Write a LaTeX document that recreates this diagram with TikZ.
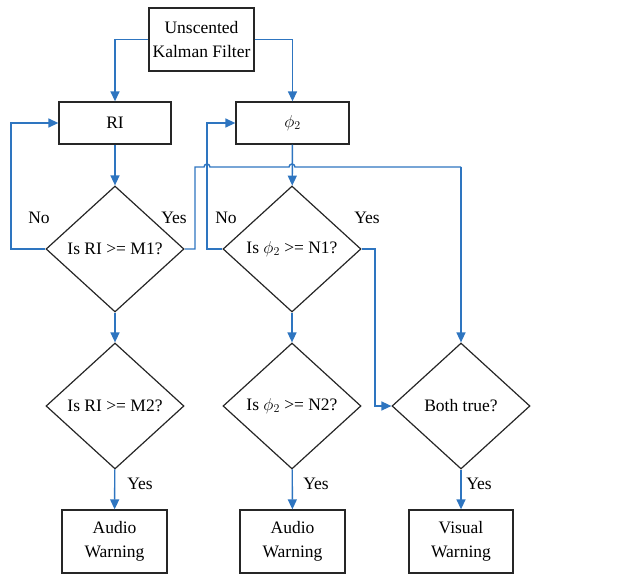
\documentclass[tikz,border=0pt]{standalone}
\usepackage{fontspec}
\setmainfont{Liberation Serif}
\usetikzlibrary{shapes.geometric,arrows.meta}
\definecolor{flowblue}{RGB}{46,117,192}
\begin{document}
\begin{tikzpicture}[x=1pt,y=-1pt,
  font=\fontsize{17.5}{24}\selectfont,
  box/.style={draw=black!85,line width=1.3pt,rectangle,inner sep=0pt,align=center,minimum height=42pt},
  tallbox/.style={box,minimum height=63pt,minimum width=105pt},
  decision/.style={draw=black!85,line width=1.2pt,diamond,inner sep=0pt,minimum width=138pt,minimum height=126pt,align=center},
  arr/.style={draw=flowblue,line width=1.4pt,-{Triangle[length=10pt,width=9pt]}},
  ln/.style={draw=flowblue,line width=1.4pt},
  lbl/.style={inner sep=0pt}]
\useasboundingbox (0,0) rectangle (632,575);
\node[tallbox] (ukf) at (201.5,39.5) {Unscented\\Kalman Filter};
\node[box,minimum width=112pt] (ri) at (115,123) {RI};
\node[box,minimum width=113pt] (phi) at (292.5,123) {$\phi_2$};
\node[decision] (d1) at (115,249) {Is RI >= M1?};
\node[decision] (d2) at (292,249) {Is $\phi_2$ >= N1?};
\node[decision] (d3) at (115,406) {Is RI >= M2?};
\node[decision] (d4) at (292,406) {Is $\phi_2$ >= N2?};
\node[decision] (d5) at (461,406) {Both true?};
\node[tallbox] (b1) at (114.5,541.5) {Audio\\Warning};
\node[tallbox] (b2) at (292.5,541.5) {Audio\\Warning};
\node[tallbox,minimum width=104pt] (b3) at (461,541.5) {Visual\\Warning};
% top connectors
\draw[arr] (ukf.west) -| (ri.north);
\draw[arr] (ukf.east) -| (phi.north);
\draw[arr] (ri) -- (d1);
\draw[arr] (phi) -- (d2);
\draw[arr] (d1) -- (d3);
\draw[arr] (d2) -- (d4);
\draw[arr] (d3) -- (b1);
\draw[arr] (d4) -- (b2);
\draw[arr] (d5) -- (b3);
% No loops
\coordinate (n1) at (11,249);
\coordinate (n2) at (207,249);
\draw[arr] (d1.west) -- (n1) |- (ri.west);
\draw[arr] (d2.west) -- (n2) |- (phi.west);
% Yes from d1 to d5 with hops
\coordinate (y1a) at (195,249);
\coordinate (y1b) at (195,167);
\coordinate (y1c) at (461,167);
\draw[ln] (d1.east) -- (y1a) -- (y1b) -- (204,167) arc[start angle=180,end angle=0,radius=3pt] -- (289,167) arc[start angle=180,end angle=0,radius=3pt] -- (y1c);
\draw[arr] (y1c) -- (d5.north);
% Yes from d2 to d5
\coordinate (y2a) at (375,249);
\draw[arr] (d2.east) -- (y2a) |- (d5.west);
% labels
\node[lbl] (l1) at (39,218) {No};
\node[lbl] (l2) at (174,218) {Yes};
\node[lbl] (l3) at (226,218) {No};
\node[lbl] (l4) at (367,218) {Yes};
\node[lbl] (l5) at (140,484) {Yes};
\node[lbl] (l6) at (316,484) {Yes};
\node[lbl] (l7) at (479,484) {Yes};
\end{tikzpicture}
\end{document}
